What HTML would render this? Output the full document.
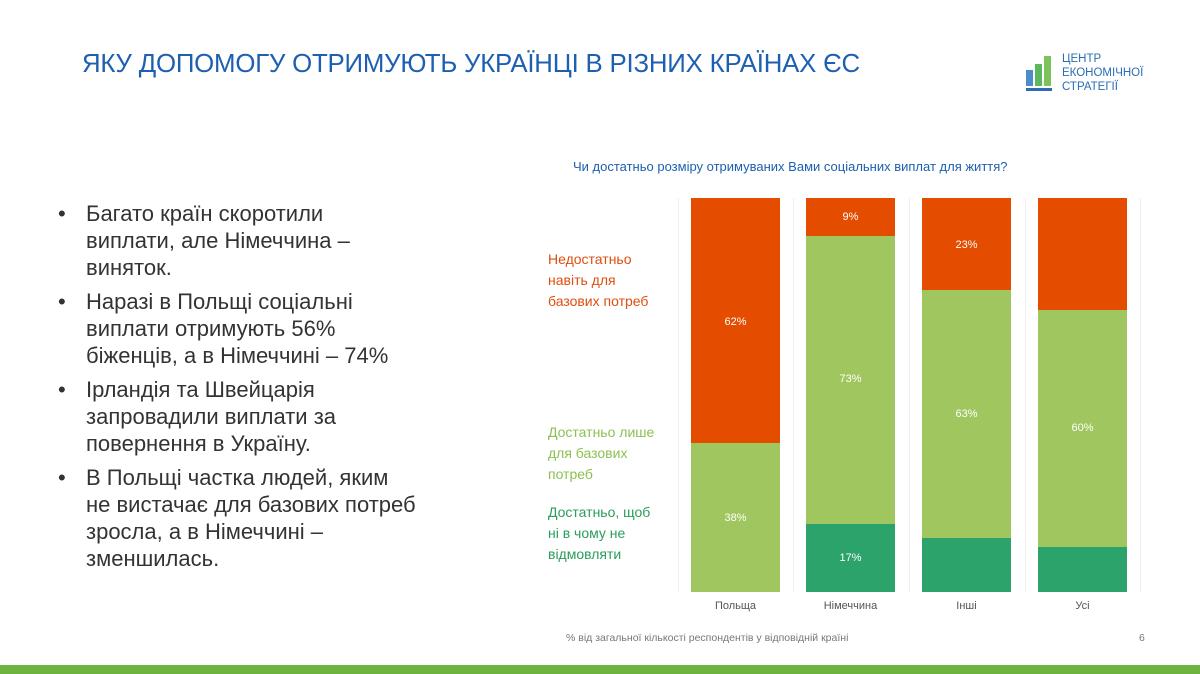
<!DOCTYPE html>
<html><head><meta charset="utf-8"><style>
body{margin:0;width:1200px;height:674px;background:#fff;position:relative;overflow:hidden;font-family:"Liberation Sans","DejaVu Sans",sans-serif}
.a{position:absolute}
.t{left:82px;top:50px;font-size:25.8px;color:#1d5fb0;letter-spacing:-0.2px}
ul{position:absolute;left:56px;top:200px;margin:0;padding:0;list-style:none;font-size:22px;color:#333;line-height:27px;width:440px;white-space:nowrap}
li{position:relative;padding-left:30px;margin-bottom:7px}
li:before{content:"•";position:absolute;left:2px}
.bar{position:absolute;width:89px}
.lb{color:#fff;font-size:11px;text-align:center;position:absolute;width:89px}
.x{font-size:11px;color:#555;text-align:center;width:89px;top:600px}
.leg{font-size:14px;line-height:21px;left:548px}
.g{position:absolute;top:198px;width:1px;height:394px;background:#eee}
</style></head><body>
<div class="a t">ЯКУ ДОПОМОГУ ОТРИМУЮТЬ УКРАЇНЦІ В РІЗНИХ КРАЇНАХ ЄС</div>
<svg class="a" style="left:1026px;top:52px" width="32" height="40">
<rect x="0" y="18" width="7" height="16" fill="#4a8dc8"/><rect x="9" y="12" width="7" height="22" fill="#5cb85c"/><rect x="18" y="4" width="7" height="30" fill="#7cc35a"/><rect x="0" y="36" width="26" height="3" fill="#2a6db5"/></svg>
<div class="a" style="left:1062px;top:52px;font-size:11.5px;line-height:14px;color:#2a6db5">ЦЕНТР<br>ЕКОНОМІЧНОЇ<br>СТРАТЕГІЇ</div>
<ul>
<li>Багато країн скоротили<br>виплати, але Німеччина –<br>виняток.</li>
<li>Наразі в Польщі соціальні<br>виплати отримують 56%<br>біженців, а в Німеччині – 74%</li>
<li>Ірландія та Швейцарія<br>запровадили виплати за<br>повернення в Україну.</li>
<li>В Польщі частка людей, яким<br>не вистачає для базових потреб<br>зросла, а в Німеччині –<br>зменшилась.</li>
</ul>
<div class="a" style="left:573px;top:159px;font-size:13px;color:#1d5fb0">Чи достатньо розміру отримуваних Вами соціальних виплат для життя?</div>
<div class="a leg" style="top:249px;color:#e04e10">Недостатньо<br>навіть для<br>базових потреб</div>
<div class="a leg" style="top:422px;color:#8cc152">Достатньо лише<br>для базових<br>потреб</div>
<div class="a leg" style="top:502px;color:#2a9d5c">Достатньо, щоб<br>ні в чому не<br>відмовляти</div>
<div class="g" style="left:678px"></div><div class="g" style="left:793px"></div><div class="g" style="left:909px"></div><div class="g" style="left:1025px"></div><div class="g" style="left:1140px"></div>
<div class="bar" style="left:691px;top:198px;height:245px;background:#e44d00"></div>
<div class="bar" style="left:691px;top:443px;height:149px;background:#a0c75f"></div>
<div class="lb" style="left:691px;top:316px">62%</div><div class="lb" style="left:691px;top:512px">38%</div>
<div class="bar" style="left:806px;top:198px;height:38px;background:#e44d00"></div>
<div class="bar" style="left:806px;top:236px;height:288px;background:#a0c75f"></div>
<div class="bar" style="left:806px;top:524px;height:68px;background:#2ba36a"></div>
<div class="lb" style="left:806px;top:211px">9%</div><div class="lb" style="left:806px;top:373px">73%</div><div class="lb" style="left:806px;top:552px">17%</div>
<div class="bar" style="left:922px;top:198px;height:92px;background:#e44d00"></div>
<div class="bar" style="left:922px;top:290px;height:248px;background:#a0c75f"></div>
<div class="bar" style="left:922px;top:538px;height:54px;background:#2ba36a"></div>
<div class="lb" style="left:922px;top:239px">23%</div><div class="lb" style="left:922px;top:408px">63%</div>
<div class="bar" style="left:1038px;top:198px;height:112px;background:#e44d00"></div>
<div class="bar" style="left:1038px;top:310px;height:237px;background:#a0c75f"></div>
<div class="bar" style="left:1038px;top:547px;height:45px;background:#2ba36a"></div>
<div class="lb" style="left:1038px;top:422px">60%</div>
<div class="a x" style="left:691px">Польща</div><div class="a x" style="left:806px">Німеччина</div><div class="a x" style="left:922px">Інші</div><div class="a x" style="left:1038px">Усі</div>
<div class="a" style="left:566px;top:632px;font-size:10.5px;color:#777">% від загальної кількості респондентів у відповідній країні</div>
<div class="a" style="left:1139px;top:632px;font-size:10.5px;color:#777">6</div>
<div class="a" style="left:0;top:665px;width:1200px;height:9px;background:#6db33f"></div>
</body></html>
